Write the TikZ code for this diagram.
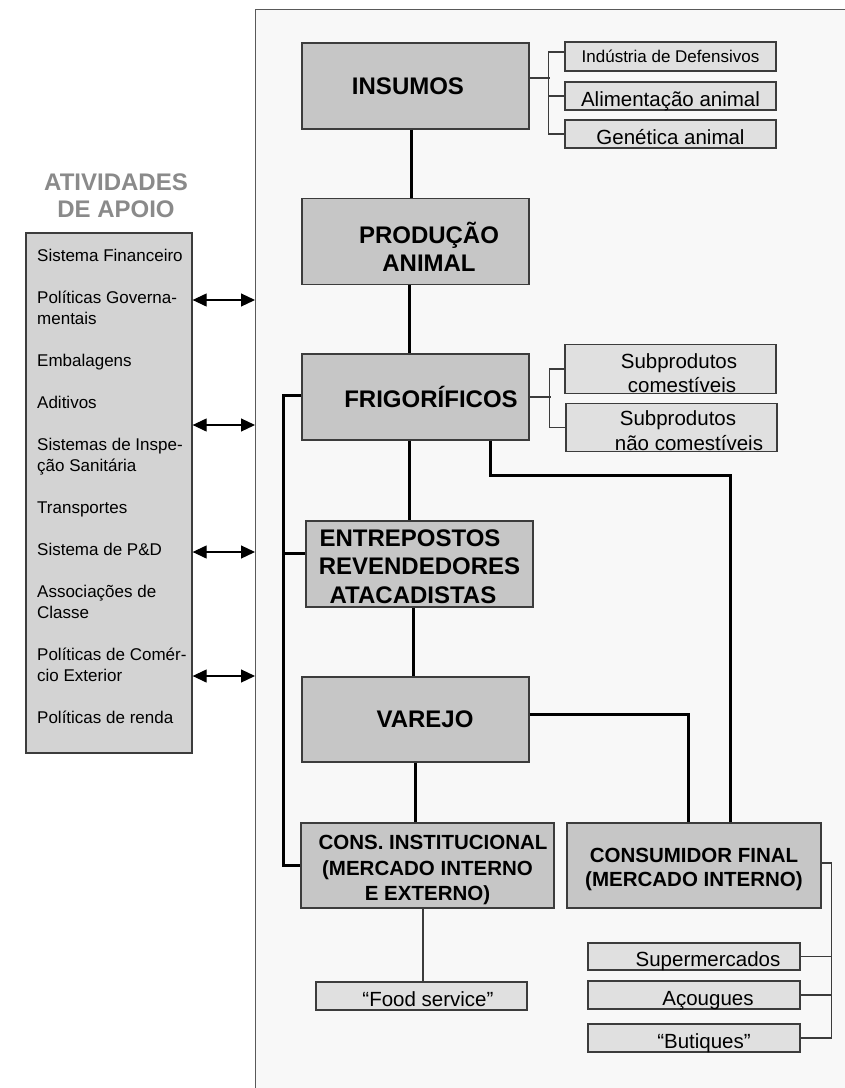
\documentclass[tikz,border=0pt]{standalone}
\usepackage{fontspec}
\setmainfont{Liberation Sans}
\usetikzlibrary{arrows.meta}
\definecolor{cinza}{HTML}{C6C6C6}
\definecolor{cinzaclaro}{HTML}{E0E0E0}
\definecolor{cinzaapoio}{HTML}{D3D3D3}
\definecolor{fundo}{HTML}{F8F8F8}
\definecolor{borda}{HTML}{3C3C3C}
\definecolor{cinzatitulo}{HTML}{8A8A8A}
\tikzstyle{etapa} = [draw=borda, line width=1.3pt, fill=cinza, inner sep=2pt, align=center, minimum width=227pt, minimum height=86pt, font=\bfseries\fontsize{24}{28.5}\selectfont]
\tikzstyle{consumo} = [etapa, minimum width=253pt, minimum height=85pt, font=\bfseries\fontsize{20.5}{25.5}\selectfont]
\tikzstyle{subetapa} = [draw=borda, line width=1.1pt, fill=cinzaclaro, inner sep=1pt, align=center, minimum width=211pt, minimum height=28pt, font=\fontsize{20.5}{24.5}\selectfont]
\tikzstyle{rasa} = [text height=20pt, text depth=0pt]
\tikzstyle{elo} = [line width=3pt, black]
\tikzstyle{ramo} = [line width=1.1pt, borda]
\tikzstyle{dupla} = [line width=1.2pt, {Triangle[length=14pt,width=13pt]}-{Triangle[length=14pt,width=13pt]}]
\newcommand{\desce}[1]{\rule{0pt}{#1}}

\begin{document}
\begin{tikzpicture}[x=1pt, y=-1pt]%
	\useasboundingbox (0,0) rectangle (845,1088);%
	\clip (0,0) rectangle (845,1088);%
	\node (painel) [draw=borda!85, line width=1pt, fill=fundo, anchor=north west, minimum width=640pt, minimum height=1120pt] at (255,9) {};%
	% atividades de apoio
	\node (titulo) [font=\bfseries\fontsize{24}{27}\selectfont, text=cinzatitulo, align=center] at (116,195.5) {ATIVIDADES\\DE APOIO};%
	\node (apoio) [draw=borda, line width=1.3pt, fill=cinzaapoio, minimum width=166pt, minimum height=520pt] at (109,493) {};%
	\node (lista) [anchor=north west, inner sep=0pt, align=left, font=\fontsize{17}{21}\selectfont] at (37,249) {Sistema Financeiro\\[21pt]%
		Políticas Governa-\\mentais\\[21pt]%
		Embalagens\\[21pt]%
		Aditivos\\[21pt]%
		Sistemas de Inspe-\\ção Sanitária\\[21pt]%
		Transportes\\[21pt]%
		Sistema de P\&D\\[21pt]%
		Associações de\\Classe\\[21pt]%
		Políticas de Comér-\\cio Exterior\\[21pt]%
		Políticas de renda};%
	\foreach \h in {300,425,552,676}%
		\draw[dupla] (apoio.east |- 0,\h) -- (painel.west |- 0,\h);%
	% cadeia
	\node (insumos) [etapa] at (415.5,86) {INSUMOS\hspace*{15pt}};%
	\node (producao) [etapa] at (415.5,241.5) {\desce{32pt}\hspace*{27pt}PRODUÇÃO\\\hspace*{27pt}ANIMAL};%
	\node (frigo) [etapa] at (415.5,397) {\hspace*{31pt}FRIGORÍFICOS};%
	\node (entrepostos) [etapa] at (419.5,564) {\desce{22pt}ENTREPOSTOS\hspace*{19pt}\\REVENDEDORES\hspace*{9pt}\\ATACADISTAS\hspace*{13pt}};%
	\node (varejo) [etapa, minimum height=85pt] at (415.5,719.5) {\hspace*{19pt}VAREJO};%
	\node (institucional) [consumo] at (427.5,865.5) {\desce{24pt}\hspace*{11pt}CONS. INSTITUCIONAL\\(MERCADO INTERNO\hspace*{15pt}\\E EXTERNO)};%
	\node (consumidor) [consumo, minimum width=254pt, font=\bfseries\fontsize{20.5}{24}\selectfont] at (694,865.5) {\desce{23pt}CONSUMIDOR FINAL\\(MERCADO INTERNO)};%
	% itens laterais
	\node (defensivos) [subetapa, minimum height=29pt, font=\fontsize{17}{20}\selectfont] at (670.5,56.5) {Indústria de Defensivos};%
	\node (alimentacao) [subetapa, rasa] at (670.5,96) {Alimentação animal};%
	\node (genetica) [subetapa, rasa] at (670.5,134) {Genética animal};%
	\node (comestiveis) [subetapa, minimum height=48pt] at (670.5,369) {\desce{23pt}\hspace*{17pt}Subprodutos\\\hspace*{23pt}comestíveis};%
	\node (naocomestiveis) [subetapa, minimum height=47pt] at (671.5,427.5) {\desce{21pt}\hspace*{13pt}Subprodutos\\\hspace*{35pt}não comestíveis};%
	\node (food) [subetapa, rasa] at (421.5,996) {\hspace*{13pt}“Food service”};%
	\node (super) [subetapa, rasa, minimum width=212pt, minimum height=27pt] at (694,956.5) {\hspace*{28pt}Supermercados};%
	\node (acougues) [subetapa, rasa, minimum width=212pt] at (694,995) {\hspace*{28pt}Açougues};%
	\node (butiques) [subetapa, rasa, minimum width=212pt] at (694,1038) {\hspace*{20pt}“Butiques”};%
	% ligacoes
	\draw[elo] ([xshift=-4.5pt]insumos.south) -- ([xshift=-4.5pt]insumos.south |- producao.north);%
	\draw[elo] ([xshift=-6.5pt]producao.south) -- ([xshift=-6.5pt]producao.south |- frigo.north);%
	\draw[elo] ([xshift=-6.5pt]frigo.south) -- ([xshift=-6.5pt]frigo.south |- entrepostos.north);%
	\draw[elo] ([xshift=-6.5pt]entrepostos.south) -- ([xshift=-6.5pt]entrepostos.south |- varejo.north);%
	\draw[elo] (varejo.south) -- (varejo.south |- institucional.north);%
	\draw[elo] ([yshift=2pt]frigo.west) -- ++(-18,0) |- (institucional.west);%
	\draw[elo] ([yshift=11pt]entrepostos.west) -- ++(-22,0);%
	\draw[elo] ([xshift=74.5pt]frigo.south) -- ++(0,35) -| ([xshift=36pt]consumidor.north);%
	\draw[elo] ([yshift=5.5pt]varejo.east) -| ([xshift=-6pt]consumidor.north);%
	\draw[ramo] ([yshift=8pt]insumos.east) -- ++(20,0);%
	\draw[ramo] ([yshift=4.5pt]defensivos.west) -- ++(-16,0) |- (genetica.west);%
	\draw[ramo] (alimentacao.west) -- ++(-16,0);%
	\draw[ramo] (frigo.east) -- ++(21,0);%
	\draw[ramo] (comestiveis.west) -- ++(-15,0) |- (naocomestiveis.west);%
	\draw[ramo] ([xshift=-4.5pt]institucional.south) -- ([xshift=-4.5pt]institucional.south |- food.north);%
	\draw[ramo] ([yshift=2.5pt]consumidor.east) -- ++(10,0) |- (butiques.east);%
	\draw[ramo] (super.east) -- ++(31,0);%
	\draw[ramo] (acougues.east) -- ++(31,0);%
\end{tikzpicture}
\end{document}
